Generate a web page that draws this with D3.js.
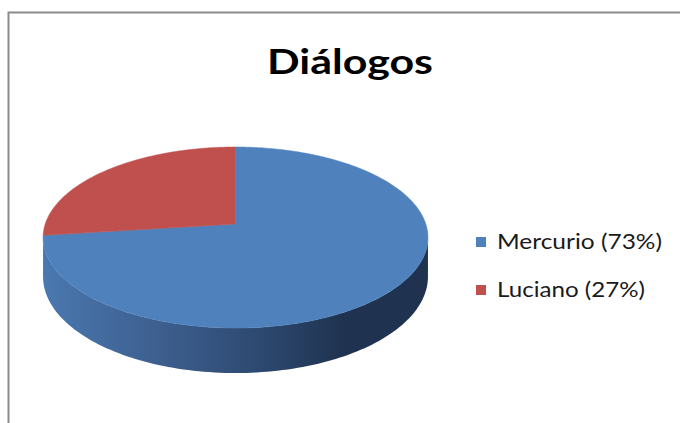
<!DOCTYPE html>
<html>
<head>
<meta charset="utf-8">
<script src="https://cdn.jsdelivr.net/npm/d3@7"></script>
<style>
  html, body { margin: 0; padding: 0; background: #ffffff; }
  svg { display: block; }
</style>
</head>
<body>
<svg id="chart" width="680" height="423"></svg>
<script>
// ---- data ----
const title = "Diálogos";
const categories = ["Mercurio", "Luciano"];
const values = [73, 27];
const legendLabels = ["Mercurio (73%)", "Luciano (27%)"];
const colors = ["#4f81bd", "#c0504d"];

// ---- layout ----
const W = 680, H = 423;
const svg = d3.select("#chart");

// chart frame
svg.append("rect")
  .attr("x", 8.5).attr("y", 12.5)
  .attr("width", W + 10).attr("height", H + 10)
  .attr("fill", "#ffffff")
  .attr("stroke", "#8c8c8c").attr("stroke-width", 2);

// title
svg.append("text")
  .attr("x", 267).attr("y", 74)
  .attr("font-family", "Lato, 'Open Sans', sans-serif")
  .attr("font-weight", 700)
  .attr("font-size", 34)
  .attr("fill", "#000000")
  .attr("textLength", 166)
  .attr("lengthAdjust", "spacingAndGlyphs")
  .text(title);

// ---- perspective projection of the pie disk ----
const cx = 235.5;        // horizontal centre
const A = 190.3;         // horizontal radius factor
const pa = 55.07, pb = 224, pc = -0.1492; // projective mapping of depth
const thick = 38.3;      // wall thickness

function proj(angle, r, down) {
  const u = r * Math.sin(angle);
  const v = -r * Math.cos(angle);
  const den = 1 + pc * v;
  const x = cx + A * u / den;
  const y = (pa * v + pb) / den + (down ? thick / den : 0);
  return [x, y];
}

const pie = d3.pie().sort(null).value(d => d)
  .startAngle(0).endAngle(2 * Math.PI);
const arcs = pie(values);

// visible front wall range (tangent points of the outline)
const tFront1 = Math.PI - Math.acos(-pc);      // right extreme
const tFront2 = Math.PI + Math.acos(-pc);      // left extreme

const defs = svg.append("defs");
const grad = defs.append("linearGradient")
  .attr("id", "sideGrad")
  .attr("gradientUnits", "userSpaceOnUse")
  .attr("x1", 43).attr("y1", 0).attr("x2", 428).attr("y2", 0);
[[0, "#4a78b0"], [0.3, "#3d5f8f"], [0.55, "#2e4a72"], [0.78, "#1f3350"], [1, "#1f3350"]]
  .forEach(s => grad.append("stop").attr("offset", s[0]).attr("stop-color", s[1]));
const gradR = defs.append("linearGradient")
  .attr("id", "sideGradR")
  .attr("gradientUnits", "userSpaceOnUse")
  .attr("x1", 43).attr("y1", 0).attr("x2", 428).attr("y2", 0);
[[0, "#b24a47"], [0.5, "#8a3836"], [1, "#602624"]]
  .forEach(s => gradR.append("stop").attr("offset", s[0]).attr("stop-color", s[1]));

const line = d3.line();
const g = svg.append("g");

// side walls
arcs.forEach((d, i) => {
  const a0 = Math.max(d.startAngle, tFront1);
  const a1 = Math.min(d.endAngle, tFront2);
  if (a1 <= a0) return;
  const n = 120;
  const ang = d3.range(n + 1).map(k => a0 + (a1 - a0) * k / n);
  const pts = ang.map(a => proj(a, 1, false))
    .concat(ang.slice().reverse().map(a => proj(a, 1, true)));
  g.append("path")
    .attr("d", line(pts) + "Z")
    .attr("fill", i === 0 ? "url(#sideGrad)" : "url(#sideGradR)");
});

// top faces
arcs.forEach((d, i) => {
  const n = 200;
  const ang = d3.range(n + 1).map(k => d.startAngle + (d.endAngle - d.startAngle) * k / n);
  const pts = [proj(0, 0, false)].concat(ang.map(a => proj(a, 1, false)));
  g.append("path")
    .attr("d", line(pts) + "Z")
    .attr("fill", colors[i])
    .attr("stroke", colors[i]).attr("stroke-width", 0.5);
});

// ---- legend ----
const legendY = d3.scalePoint().domain(categories).range([237, 285]);
const lg = svg.append("g");
categories.forEach((c, i) => {
  const y = legendY(c);
  lg.append("rect")
    .attr("x", 476).attr("y", y)
    .attr("width", 10).attr("height", 10)
    .attr("fill", colors[i]);
  lg.append("text")
    .attr("x", 497).attr("y", y + 11.5)
    .attr("font-family", "Lato, 'Open Sans', sans-serif")
    .attr("font-size", 21)
    .attr("fill", "#1a1a1a")
    .attr("textLength", i === 0 ? 165 : 148)
    .attr("lengthAdjust", "spacingAndGlyphs")
    .text(legendLabels[i]);
});
</script>
</body>
</html>
